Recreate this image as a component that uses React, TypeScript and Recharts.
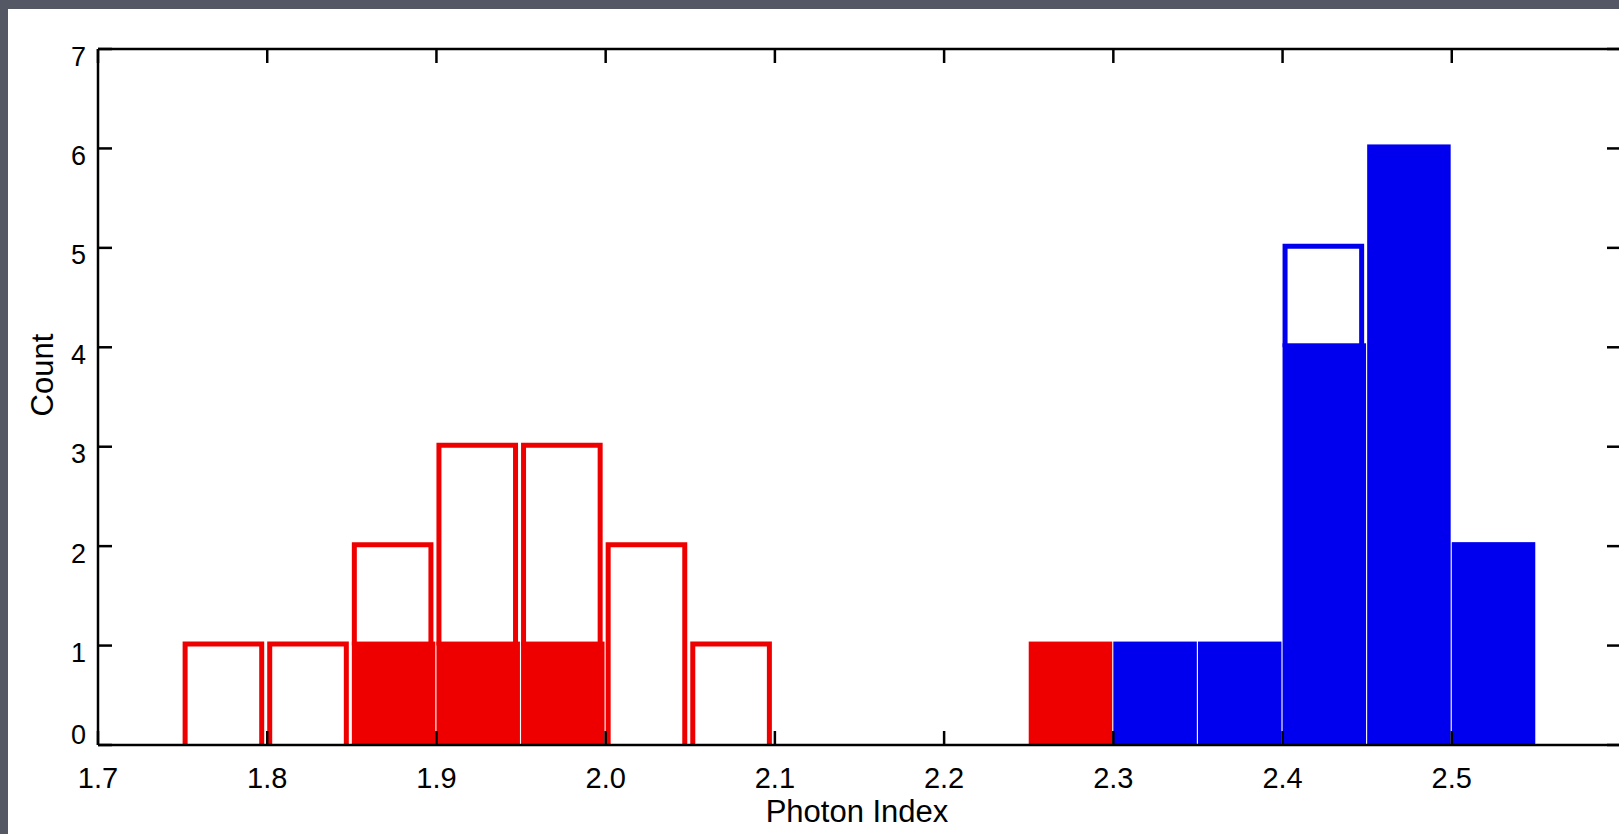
import React from 'react';
import { ComposedChart, Bar, XAxis, YAxis } from 'recharts';

// Histogram bins (left edges, width 0.05)
const binStarts = ['1.70', '1.75', '1.80', '1.85', '1.90', '1.95', '2.00', '2.05', '2.10', '2.15', '2.20', '2.25', '2.30', '2.35', '2.40', '2.45', '2.50', '2.55'];
const binCenters = [1.725, 1.775, 1.825, 1.875, 1.925, 1.975, 2.025, 2.075, 2.125, 2.175, 2.225, 2.275, 2.325, 2.375, 2.425, 2.475, 2.525, 2.575];

// Counts
const redTotal = [0, 1, 1, 2, 3, 3, 2, 1, 0, 0, 0, 1, 0, 0, 0, 0, 0, 0];
const redFilled = [0, 0, 0, 1, 1, 1, 0, 0, 0, 0, 0, 1, 0, 0, 0, 0, 0, 0];
const blueTotal = [0, 0, 0, 0, 0, 0, 0, 0, 0, 0, 0, 0, 1, 1, 5, 6, 2, 0];
const blueFilled = [0, 0, 0, 0, 0, 0, 0, 0, 0, 0, 0, 0, 1, 1, 4, 6, 2, 0];

const xTicks = [1.7, 1.8, 1.9, 2.0, 2.1, 2.2, 2.3, 2.4, 2.5];
const xFrameTicks = [1.7, 1.8, 1.9, 2.0, 2.1, 2.2, 2.3, 2.4, 2.5, 2.6];
const yTicks = [0, 1, 2, 3, 4, 5, 6, 7];

const RED = '#EE0000';
const BLUE = '#0000EE';
const FONT = '"Liberation Sans", Arial, Helvetica, sans-serif';

const data = binStarts.map((b, i) => ({
  bin: b,
  center: binCenters[i],
  redFill: redFilled[i],
  blueFill: blueFilled[i],
  redRest: redTotal[i] - redFilled[i],
  blueRest: blueTotal[i] - blueFilled[i],
}));

const makeFill = (color: string) => (props: any) => {
  const { x, y, width, height } = props;
  if (!height || height <= 0) return <g />;
  return <rect x={x} y={y - 4} width={width - 1.5} height={height + 4} fill={color} />;
};

const makeOutline = (color: string) => (props: any) => {
  const { x, y, width, height } = props;
  if (!height || height <= 0) return <g />;
  const l = x + 2.5;
  const r = x + width - 5.9;
  const t = y - 1.5;
  const b = y + height;
  return (
    <path
      d={`M${l},${b}V${t}H${r}V${b}`}
      fill="none"
      stroke={color}
      strokeWidth={5}
      strokeLinejoin="miter"
      strokeLinecap="butt"
    />
  );
};

const XTick = (props: any) => {
  const { x, y, payload } = props;
  return (
    <text x={x} y={y + 57} textAnchor="middle" fontFamily={FONT} fontSize={29} fill="#000">
      {Number(payload.value).toFixed(1)}
    </text>
  );
};

const YTick = (props: any) => {
  const { x, y, payload } = props;
  const v = Number(payload.value);
  return (
    <text x={x - 26} y={v === 0 ? y - 1 : y + 16.5} textAnchor="end" fontFamily={FONT} fontSize={27} fill="#000">
      {v}
    </text>
  );
};

const NoTick = () => <g />;

const axisLine = { stroke: '#000', strokeWidth: 2.5 };
const tickLine = { stroke: '#000', strokeWidth: 2.5 };

export default function App() {
  return (
    <div
      style={{
        position: 'fixed',
        left: 0,
        top: 0,
        width: 1619,
        height: 834,
        overflow: 'hidden',
        background: '#535864',
      }}
    >
      <div style={{ position: 'absolute', left: 8, top: 9, right: 0, bottom: 0, background: '#ffffff' }} />
      <div style={{ position: 'absolute', left: 0, top: 0 }}>
        <ComposedChart
          width={1640}
          height={834}
          data={data}
          margin={{ top: 48, right: 18, bottom: 0, left: 0 }}
          barCategoryGap={0}
          barGap={0}
        >
          <XAxis xAxisId="cat" dataKey="bin" type="category" hide height={0} />
          <YAxis
            yAxisId="left"
            type="number"
            domain={[0, 7]}
            ticks={yTicks}
            allowDataOverflow
            width={98}
            axisLine={axisLine}
            tickLine={tickLine}
            tickSize={-14}
            tickMargin={0}
            interval={0}
            tick={<YTick />}
            label={() => (
              <text
                x={53}
                y={375}
                transform="rotate(-90, 53, 375)"
                textAnchor="middle"
                fontFamily={FONT}
                fontSize={31}
                fill="#000"
              >
                Count
              </text>
            )}
          />
          <YAxis
            yAxisId="right"
            orientation="right"
            type="number"
            domain={[0, 7]}
            ticks={yTicks}
            allowDataOverflow
            width={1}
            axisLine={axisLine}
            tickLine={tickLine}
            tickSize={-14}
            tick={<NoTick />}
            interval={0}
          />
          <Bar dataKey="redFill" xAxisId="cat" yAxisId="left" stackId="h" shape={makeFill(RED)} isAnimationActive={false} />
          <Bar dataKey="blueFill" xAxisId="cat" yAxisId="left" stackId="h" shape={makeFill(BLUE)} isAnimationActive={false} />
          <Bar dataKey="redRest" xAxisId="cat" yAxisId="left" stackId="h" shape={makeOutline(RED)} isAnimationActive={false} />
          <Bar dataKey="blueRest" xAxisId="cat" yAxisId="left" stackId="h" shape={makeOutline(BLUE)} isAnimationActive={false} />
          <XAxis
            xAxisId="num"
            dataKey="center"
            type="number"
            domain={[1.7, 2.6]}
            ticks={xTicks}
            allowDataOverflow
            height={89}
            axisLine={axisLine}
            tickLine={tickLine}
            tickSize={-14}
            tickMargin={0}
            interval={0}
            tick={<XTick />}
            label={() => (
              <text x={857} y={822} textAnchor="middle" fontFamily={FONT} fontSize={31} fill="#000">
                Photon Index
              </text>
            )}
          />
          <XAxis
            xAxisId="top"
            dataKey="center"
            orientation="top"
            type="number"
            domain={[1.7, 2.6]}
            ticks={xFrameTicks}
            allowDataOverflow
            height={1}
            axisLine={axisLine}
            tickLine={tickLine}
            tickSize={-14}
            tick={<NoTick />}
            interval={0}
          />
        </ComposedChart>
      </div>
    </div>
  );
}
